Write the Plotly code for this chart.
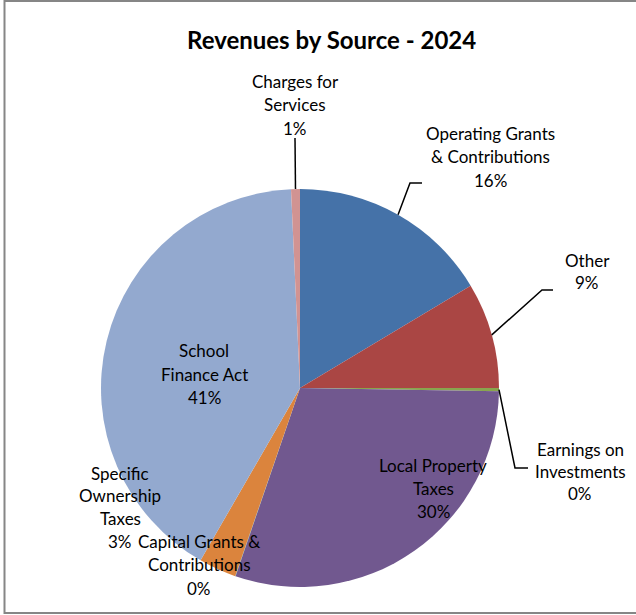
import math
import plotly.graph_objects as go

# ---- data ----
categories = ["Operating Grants & Contributions", "Other", "Earnings on Investments",
              "Local Property Taxes", "Capital Grants & Contributions",
              "Specific Ownership Taxes", "School Finance Act", "Charges for Services"]
values = [16.4, 8.6, 0.25, 30.0, 0.03, 3.05, 40.95, 0.72]
label_lines = [["Operating Grants", "& Contributions"], ["Other"], ["Earnings on", "Investments"],
               ["Local Property", "Taxes"], ["Capital Grants &", "Contributions"],
               ["Specific", "Ownership", "Taxes"], ["School", "Finance Act"], ["Charges for", "Services"]]
colors = ["#4572A8", "#AA4644", "#89A54E", "#71588F", "#4198AF", "#DB843D", "#93A9CF", "#D19392"]
title = "Revenues by Source - 2024"

W, H = 636, 615
CX, CY, R = 300, 388, 199  # pie centre / radius in pixels

def px(x):
    return x / W

def py(y):
    return 1 - y / H

total = sum(values)
pcts = [f"{round(v / total * 100)}%" for v in values]

fig = go.Figure(go.Pie(
    labels=categories, values=values, sort=False, direction="clockwise", rotation=0,
    marker=dict(colors=colors, line=dict(width=0)), textinfo="none", hoverinfo="label+percent",
    domain=dict(x=[px(CX - R), px(CX + R)], y=[py(CY + R), py(CY - R)]),
    showlegend=False,
))

# label block positions (layout): x centre, first-line y, line spacing
label_pos = {
    0: (490, 133, 23.5),
    1: (587, 260, 22.5),
    2: (580, 449, 22),
    3: (433, 465, 23),
    4: (199, 541, 23.5),
    5: (120, 473, 22.7),
    6: (204, 351, 23.5),
    7: (295, 81, 23.5),
}
font = dict(family="Lato, Carlito, sans-serif", size=17, color="#000000")
annotations = []
for i, (x, y0, sp) in label_pos.items():
    lines = label_lines[i] + [pcts[i]]
    for k, t in enumerate(lines):
        annotations.append(dict(text=t, x=px(x), y=py(y0 + k * sp), xref="paper", yref="paper",
                                xanchor="center", yanchor="middle", showarrow=False, font=font))
annotations.append(dict(text="<b>" + title + "</b>", x=px(331), y=py(39), xref="paper", yref="paper",
                        xanchor="center", yanchor="middle", showarrow=False,
                        font=dict(family="Lato, Carlito, sans-serif", size=24, color="#000000")))

# leader lines: start at slice mid-angle on the rim (from data), then elbow + end (layout)
cum = 0
mids = []
for v in values:
    mids.append((cum + v / 2) / total * 2 * math.pi)
    cum += v

leaders = {0: [(410, 183), (422, 183)],
           1: [(542, 290), (553, 290)],
           2: [(515, 468), (528, 468)],
           7: [(295, 138)]}
shapes = []
for i, pts in leaders.items():
    a = mids[i]
    sx, sy = CX + R * math.sin(a), CY - R * math.cos(a)
    allp = [(sx, sy)] + pts
    path = "M " + " L ".join(f"{px(x):.5f},{py(y):.5f}" for x, y in allp)
    shapes.append(dict(type="path", path=path, xref="paper", yref="paper",
                       line=dict(color="#000000", width=1.5)))

# chart border (left, top, bottom)
shapes.append(dict(type="path", path=f"M {px(700)},{py(1)} L {px(4.5)},{py(1)} L {px(4.5)},{py(613)} L {px(700)},{py(613)}",
                   xref="paper", yref="paper", line=dict(color="#868686", width=2)))

fig.update_layout(width=W, height=H, margin=dict(l=0, r=0, t=0, b=0),
                  paper_bgcolor="white", plot_bgcolor="white",
                  annotations=annotations, shapes=shapes)
fig.write_html("out.html", config={"displayModeBar": False},
               post_script="document.body.style.margin='0';document.body.style.padding='0';document.body.style.overflow='hidden';")
